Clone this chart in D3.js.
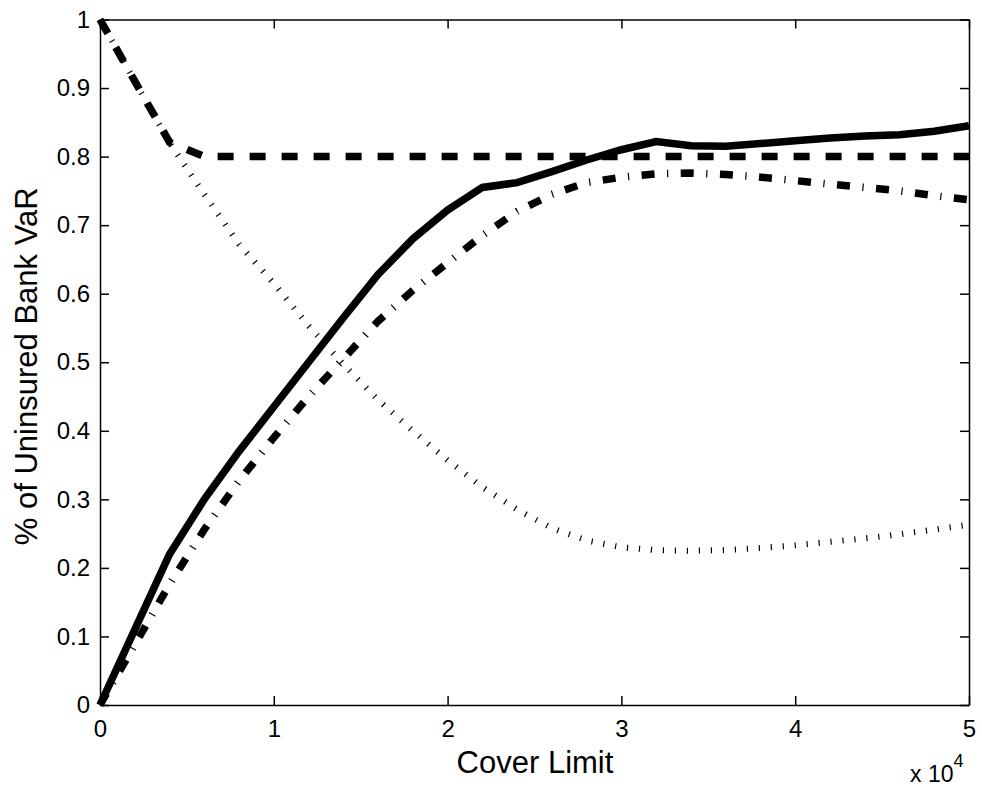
<!DOCTYPE html>
<html>
<head>
<meta charset="utf-8">
<script src="https://cdn.jsdelivr.net/npm/d3@7"></script>
<style>
  body { margin: 0; background: #fff; }
  svg text { font-family: "Liberation Sans", Arial, sans-serif; fill: #000; }
</style>
</head>
<body>
<script>
// cover limit, in units of 10^4
const coverLimit = [0, 0.2, 0.4, 0.6, 0.8, 1.0, 1.2, 1.4, 1.6, 1.8, 2.0, 2.2, 2.4,
                    2.6, 2.8, 3.0, 3.2, 3.4, 3.6, 3.8, 4.0, 4.2, 4.4, 4.6, 4.8, 5.0];
// solid thick line
const solidVals = [0, 0.11, 0.22, 0.30, 0.37, 0.435, 0.50, 0.565, 0.628, 0.68, 0.722, 0.755, 0.762,
                   0.778, 0.795, 0.81, 0.822, 0.816, 0.815, 0.819, 0.823, 0.827, 0.83, 0.832, 0.837, 0.845];
// dashed thick line
const dashedVals = [1.0, 0.91, 0.821, 0.80, 0.80, 0.80, 0.80, 0.80, 0.80, 0.80, 0.80, 0.80, 0.80,
                    0.80, 0.80, 0.80, 0.80, 0.80, 0.80, 0.80, 0.80, 0.80, 0.80, 0.80, 0.80, 0.80];
// dash-dot thick line
const dashDotVals = [0, 0.088, 0.176, 0.256, 0.327, 0.39, 0.45, 0.505, 0.56, 0.605, 0.645, 0.685, 0.72,
                     0.745, 0.762, 0.77, 0.775, 0.776, 0.774, 0.77, 0.765, 0.76, 0.755, 0.75, 0.743, 0.737];
// dotted line
const dottedVals = [1.0, 0.91, 0.82, 0.745, 0.672, 0.615, 0.553, 0.497, 0.445, 0.40, 0.357, 0.318, 0.285,
                    0.258, 0.24, 0.23, 0.226, 0.225, 0.226, 0.229, 0.233, 0.238, 0.243, 0.249, 0.256, 0.263];
const xTicks = [0, 1, 2, 3, 4, 5];
const yTicks = [0, 0.1, 0.2, 0.3, 0.4, 0.5, 0.6, 0.7, 0.8, 0.9, 1];

const w = 982, h = 788;
const pLeft = 100, pRight = 969, pTop = 19.5, pBottom = 705;

const svg = d3.select('body').append('svg')
  .attr('width', w)
  .attr('height', h);

const x = d3.scaleLinear().domain([0, 5]).range([pLeft, pRight]);
const y = d3.scaleLinear().domain([0, 1]).range([pBottom, pTop]);

const line = d3.line().x(d => x(d[0])).y(d => y(d[1]));

// series with their line styles
const series = [
  { vals: dottedVals, width: 6, dash: '1.2 10.8' },
  { vals: dashDotVals, width: 7.5, dash: '13 12.5 1.2 12.5' },
  { vals: dashedVals, width: 7.5, dash: '16 16' },
  { vals: solidVals, width: 7.5, dash: null }
];

series.forEach(s => {
  svg.append('path')
    .datum(coverLimit.map((c, i) => [c, s.vals[i]]))
    .attr('d', line)
    .attr('fill', 'none')
    .attr('stroke', '#000')
    .attr('stroke-width', s.width)
    .attr('stroke-dasharray', s.dash);
});

// axes, ticks pointing inwards on all four sides
const fmt = d => d3.format('')(d);
const xAxis = d3.axisBottom(x).tickValues(xTicks).tickSize(-9).tickSizeOuter(0).tickPadding(15).tickFormat(fmt);
const yAxis = d3.axisLeft(y).tickValues(yTicks).tickSize(-9).tickSizeOuter(0).tickPadding(10).tickFormat(fmt);
const xTop = d3.axisTop(x).tickValues(xTicks).tickSize(-9).tickSizeOuter(0).tickFormat('');
const yRight = d3.axisRight(y).tickValues(yTicks).tickSize(-9).tickSizeOuter(0).tickFormat('');

const gx = svg.append('g').attr('transform', `translate(0,${pBottom})`).call(xAxis);
const gy = svg.append('g').attr('transform', `translate(${pLeft},0)`).call(yAxis);
const gt = svg.append('g').attr('transform', `translate(0,${pTop})`).call(xTop);
const gr = svg.append('g').attr('transform', `translate(${pRight},0)`).call(yRight);

[gx, gy, gt, gr].forEach(g => {
  g.selectAll('path, line').attr('stroke', '#000').attr('stroke-width', 1.5);
  g.selectAll('text').style('font-size', '24px').style('font-family', '"Liberation Sans", Arial, sans-serif');
});

// labels
svg.append('text')
  .attr('x', 535)
  .attr('y', 773)
  .attr('text-anchor', 'middle')
  .style('font-size', '31px')
  .text('Cover Limit');

svg.append('text')
  .attr('transform', `translate(37,${(pTop + pBottom) / 2 + 4}) rotate(-90)`)
  .attr('text-anchor', 'middle')
  .style('font-size', '31px')
  .text('% of Uninsured Bank VaR');

const mult = svg.append('text')
  .attr('x', 910)
  .attr('y', 782)
  .style('font-size', '23px');
mult.append('tspan').text('x 10');
mult.append('tspan').attr('dy', -15).style('font-size', '18px').text('4');
</script>
</body>
</html>
